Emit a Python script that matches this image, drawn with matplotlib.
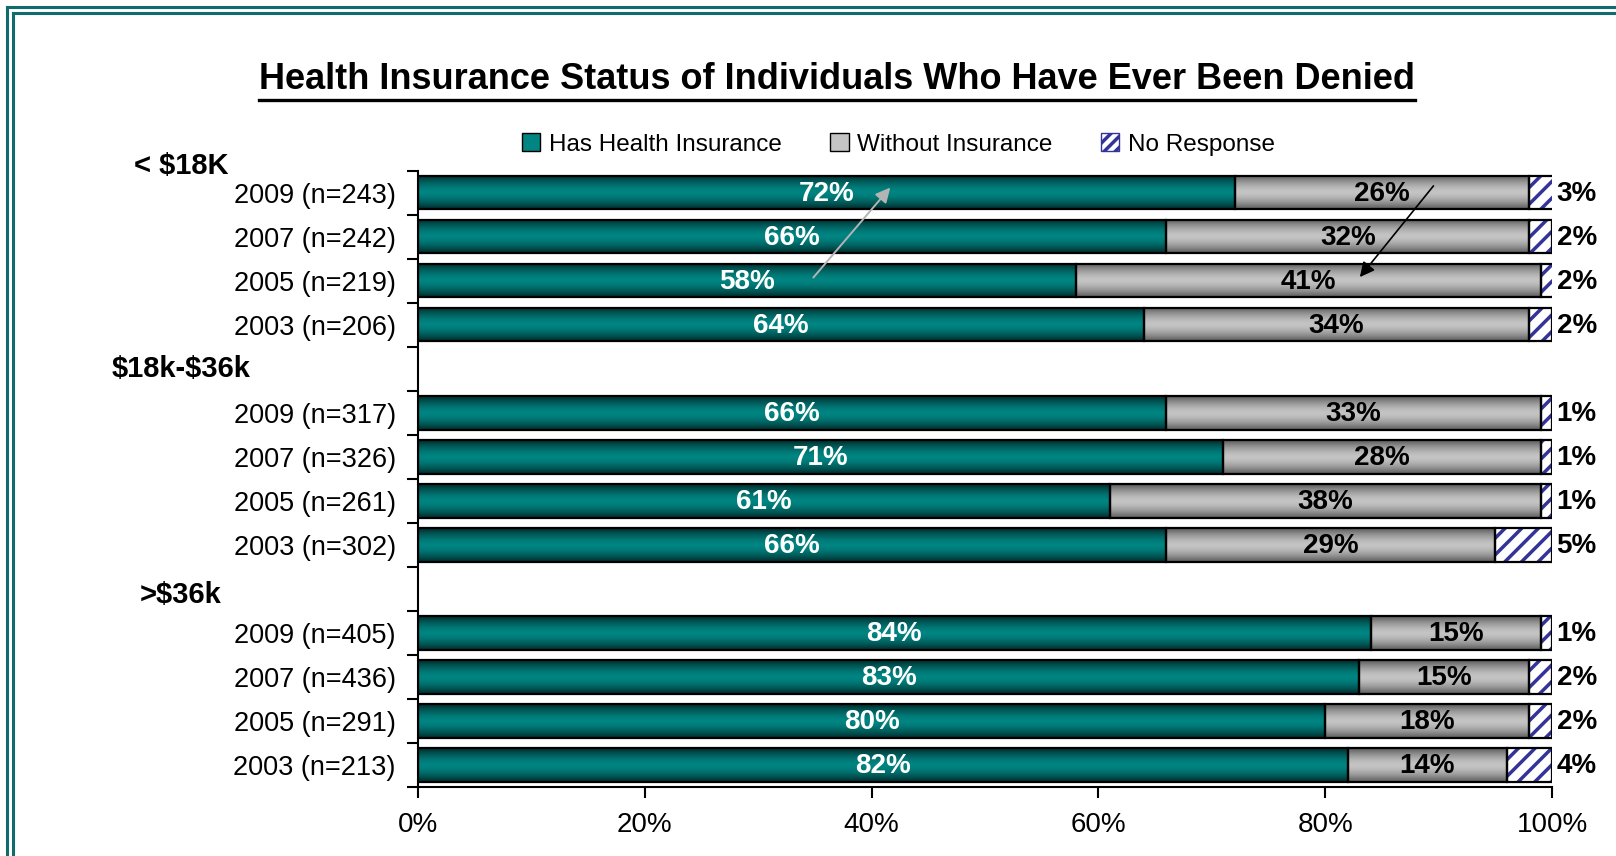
import matplotlib
matplotlib.use("Agg")
import matplotlib.pyplot as plt
import numpy as np
from matplotlib.colors import LinearSegmentedColormap
from matplotlib.lines import Line2D
from matplotlib.patches import Patch
from matplotlib.transforms import blended_transform_factory

plt.rcParams["font.family"] = ["Liberation Sans", "DejaVu Sans"]
plt.rcParams["hatch.linewidth"] = 2.5

groups = ["< \\$18K", "\\$18k-\\$36k", ">\\$36k"]
row_labels = [
    "2009 (n=243)", "2007 (n=242)", "2005 (n=219)", "2003 (n=206)",
    "2009 (n=317)", "2007 (n=326)", "2005 (n=261)", "2003 (n=302)",
    "2009 (n=405)", "2007 (n=436)", "2005 (n=291)", "2003 (n=213)",
]
has_insurance = [72, 66, 58, 64, 66, 71, 61, 66, 84, 83, 80, 82]
without_insurance = [26, 32, 41, 34, 33, 28, 38, 29, 15, 15, 18, 14]
no_response = [3, 2, 2, 2, 1, 1, 1, 5, 1, 2, 2, 4]

TEAL = "#008582"
TEAL_DARK = "#002a2a"
GRAY = "#c4c4c4"
GRAY_DARK = "#5a5a5a"
HATCH_BLUE = "#333399"
FRAME = "#106c6c"
BAR_H = 0.77

# four rows per income group, plus a blank row that holds the next heading
rows = np.array([g * 5 + i for g in range(len(groups)) for i in range(4)])
has_insurance = np.array(has_insurance)
without_insurance = np.array(without_insurance)
no_response = np.array(no_response)


def shade(ax, left, width, y, edge, center):
    # vertical gradient: dark top and bottom, bright middle
    t = np.linspace(-1, 1, 80)
    v = 1 - np.abs(t) ** 1.6
    cmap = LinearSegmentedColormap.from_list("bar", [edge, center])
    ax.imshow(v[:, None], cmap=cmap, vmin=0, vmax=1, aspect="auto",
              interpolation="bilinear", zorder=2,
              extent=[left, left + width, y + BAR_H / 2, y - BAR_H / 2])


fig = plt.figure(figsize=(16.16, 8.56), dpi=100)
ax = fig.add_axes([0.2587, 0.081, 0.9604 - 0.2587, 0.8008 - 0.081])

for y, a, b in zip(rows, has_insurance, without_insurance):
    shade(ax, 0, a, y, TEAL_DARK, TEAL)
    shade(ax, a, b, y, GRAY_DARK, GRAY)

ax.barh(rows, has_insurance, height=BAR_H, color="none",
        edgecolor="black", lw=1.6, zorder=3)
ax.barh(rows, without_insurance, left=has_insurance, height=BAR_H,
        color="none", edgecolor="black", lw=1.6, zorder=3)
nr_left = has_insurance + without_insurance
ax.barh(rows, no_response, left=nr_left, height=BAR_H, color="white",
        edgecolor=HATCH_BLUE, hatch="//", lw=0, zorder=2)
ax.barh(rows, no_response, left=nr_left, height=BAR_H, color="none",
        edgecolor="black", lw=1.6, zorder=3)

# value labels
for y, a, b, c in zip(rows, has_insurance, without_insurance, no_response):
    ax.text(a / 2, y + 0.03, f"{a}%", ha="center", va="center",
            color="white", fontsize=20, fontweight="bold", zorder=4)
    ax.text(a + b / 2, y + 0.03, f"{b}%", ha="center", va="center",
            color="black", fontsize=20, fontweight="bold", zorder=4)
    ax.text(100.4, y + 0.03, f"{c}%", ha="left", va="center",
            color="black", fontsize=20, fontweight="bold", clip_on=False)

# income group headings
head_tr = blended_transform_factory(fig.transFigure, ax.transData)
head_rows = [-0.6, 4, 9.15]
for name, hy in zip(groups, head_rows):
    ax.text(0.112, hy, name, transform=head_tr, ha="center", va="center",
            fontsize=21, fontweight="bold", clip_on=False)

# trend arrows
ax.annotate("", xy=(41.8, -0.16), xytext=(34.7, 1.98),
            arrowprops=dict(arrowstyle="-|>", color="#b4b4b4", lw=1.4,
                            mutation_scale=22), zorder=5)
ax.annotate("", xy=(82.9, 1.97), xytext=(89.7, -0.2),
            arrowprops=dict(arrowstyle="-|>", color="black", lw=1.2,
                            mutation_scale=22), zorder=5)

ax.set_xlim(0, 100)
ax.set_ylim(13.5, -0.5)
ax.set_xticks(np.arange(0, 101, 20))
ax.set_xticklabels([f"{v}%" for v in range(0, 101, 20)])
ax.set_yticks(rows)
ax.set_yticklabels(row_labels)
ax.set_yticks(np.arange(-0.5, 14, 1), minor=True)
ax.tick_params(axis="y", which="major", length=0, pad=16, labelsize=19.5)
ax.tick_params(axis="y", which="minor", length=8, width=1.5, direction="out")
ax.tick_params(axis="x", length=8, width=1.5, direction="out", pad=10,
               labelsize=20)
for side in ["top", "right"]:
    ax.spines[side].set_visible(False)
for side in ["left", "bottom"]:
    ax.spines[side].set_linewidth(1.5)

handles = [
    Patch(facecolor=TEAL, edgecolor="black"),
    Patch(facecolor=GRAY, edgecolor="black"),
    Patch(facecolor="white", edgecolor=HATCH_BLUE, hatch="///"),
]
fig.legend(handles, ["Has Health Insurance", "Without Insurance", "No Response"],
           loc="center", bbox_to_anchor=(0.556, 0.831), ncol=3, frameon=False,
           fontsize=17.5, handlelength=0.75, handleheight=0.75,
           handletextpad=0.35, columnspacing=2.0)

title = fig.text(0.518, 0.907,
                 "Health Insurance Status of Individuals Who Have Ever Been Denied",
                 ha="center", va="center", fontsize=26, fontweight="bold")

# double frame along top and left edges
W, H = 1616, 856
for off in (6.5, 12.5):
    fig.add_artist(Line2D([off / W, 1], [1 - off / H, 1 - off / H],
                          transform=fig.transFigure, color=FRAME, lw=2.2))
    fig.add_artist(Line2D([off / W, off / W], [0, 1 - off / H],
                          transform=fig.transFigure, color=FRAME, lw=2.2))

# underline the title
fig.canvas.draw()
bb = title.get_window_extent()
inv = fig.transFigure.inverted()
(x0, y0), (x1, _) = inv.transform([(bb.x0, bb.y0 - 3), (bb.x1, bb.y0 - 3)])
fig.add_artist(Line2D([x0, x1], [y0, y0], transform=fig.transFigure,
                      color="black", lw=2.4))

fig.savefig("out.png", dpi=100)
